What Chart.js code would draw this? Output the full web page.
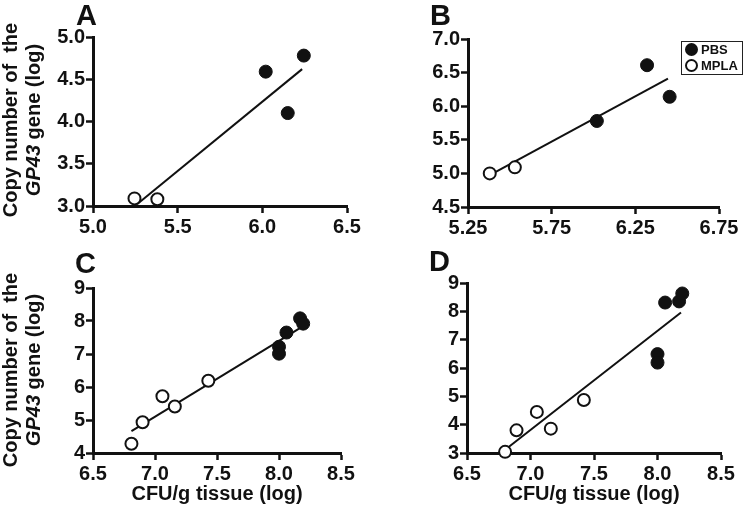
<!DOCTYPE html>
<html>
<head>
<meta charset="utf-8">
<script src="https://cdn.jsdelivr.net/npm/chart.js@4.4.0/dist/chart.umd.min.js"></script>
<style>
  body { margin: 0; background: #fff; }
  #wrap { position: relative; width: 748px; height: 515px; overflow: hidden; font-family: "Liberation Sans", Arial, sans-serif; color: #111; }
  canvas { position: absolute; }
  .letter { position: absolute; font-size: 29px; font-weight: bold; line-height: 29px; }
  .ytitle { position: absolute; width: 240px; font-size: 20px; font-weight: bold; line-height: 23px; text-align: center; white-space: nowrap; transform: translate(-50%, -50%) rotate(-90deg); }
  #legend { position: absolute; left: 681px; top: 41px; width: 57px; height: 32px; border: 1.5px solid #222; font-size: 13px; font-weight: bold; line-height: 16px; padding-left: 3px; }
  .dot { display: inline-block; width: 9px; height: 9px; border-radius: 50%; border: 2px solid #111; margin-right: 3px; vertical-align: -2px; }
</style>
</head>
<body>
<div id="wrap">
  <canvas id="cA" style="left:0;top:0" width="374" height="257"></canvas>
  <canvas id="cB" style="left:374px;top:0" width="374" height="257"></canvas>
  <canvas id="cC" style="left:0;top:257px" width="374" height="258"></canvas>
  <canvas id="cD" style="left:374px;top:257px" width="374" height="258"></canvas>

  <div class="letter" style="left:76px;top:1px">A</div>
  <div class="letter" style="left:430px;top:1px">B</div>
  <div class="letter" style="left:75px;top:249px">C</div>
  <div class="letter" style="left:429px;top:247px">D</div>

  <div class="ytitle" style="left:22px;top:120px">Copy number of &nbsp;the<br><i>GP43</i> gene (log)</div>
  <div class="ytitle" style="left:22px;top:370px">Copy number of &nbsp;the<br><i>GP43</i> gene (log)</div>

  <div id="legend">
    <div><span class="dot" style="background:#111"></span>PBS</div>
    <div><span class="dot" style="background:#fff"></span>MPLA</div>
  </div>
</div>

<script>
// panel A
const pbsAx = [6.02, 6.15, 6.245];
const pbsAy = [4.59, 4.10, 4.78];
const mplaAx = [5.245, 5.38];
const mplaAy = [3.09, 3.08];
const fitAx = [5.26, 6.235];
const fitAy = [3.02, 4.62];
const xTicksA = [5.0, 5.5, 6.0, 6.5];
const yTicksA = [3.0, 3.5, 4.0, 4.5, 5.0];

// panel B
const pbsBx = [6.02, 6.32, 6.455];
const pbsBy = [5.78, 6.61, 6.14];
const mplaBx = [5.38, 5.53];
const mplaBy = [5.0, 5.09];
const fitBx = [5.38, 6.445];
const fitBy = [4.975, 6.41];
const xTicksB = [5.25, 5.75, 6.25, 6.75];
const yTicksB = [4.5, 5.0, 5.5, 6.0, 6.5, 7.0];

// panel C
const pbsCx = [8.0, 8.0, 8.06, 8.17, 8.195];
const pbsCy = [7.22, 7.01, 7.65, 8.08, 7.92];
const mplaCx = [6.81, 6.90, 7.06, 7.16, 7.43];
const mplaCy = [4.28, 4.93, 5.72, 5.41, 6.19];
const fitCx = [6.81, 8.185];
const fitCy = [4.66, 7.82];
const xTicksC = [6.5, 7.0, 7.5, 8.0, 8.5];
const yTicksC = [4, 5, 6, 7, 8, 9];

// panel D
const pbsDx = [8.0, 8.0, 8.06, 8.17, 8.195];
const pbsDy = [6.49, 6.19, 8.31, 8.35, 8.63];
const mplaDx = [6.80, 6.89, 7.05, 7.16, 7.42];
const mplaDy = [3.04, 3.80, 4.45, 3.86, 4.87];
const fitDx = [6.81, 8.185];
const fitDy = [3.15, 7.96];
const xTicksD = [6.5, 7.0, 7.5, 8.0, 8.5];
const yTicksD = [3, 4, 5, 6, 7, 8, 9];

const xTitle = "CFU/g tissue (log)";

Chart.defaults.font.family = '"Liberation Sans", Arial, sans-serif';
Chart.defaults.color = "#111";

const pts = (xs, ys) => xs.map((x, i) => ({ x, y: ys[i] }));

function axis(ticks, digits, fitSize, isX, title, titlePad) {
    return {
        type: "linear",
        min: ticks[0],
        max: ticks[ticks.length - 1],
        afterBuildTicks: s => { s.ticks = ticks.map(v => ({ value: v })); },
        afterFit: s => { if (isX) s.height = fitSize; else s.width = fitSize; },
        ticks: {
            font: { size: 20, weight: "bold" },
            padding: isX ? 2 : 1,
            autoSkip: false,
            maxRotation: 0,
            callback: v => Number(v).toFixed(digits),
        },
        grid: {
            drawOnChartArea: false,
            drawTicks: true,
            tickLength: 7,
            tickWidth: 2.5,
            tickColor: "#111",
        },
        border: { display: true, color: "#111", width: 3 },
        title: {
            display: !!title,
            text: title || "",
            font: { size: 20, weight: "bold" },
            padding: { top: 0, bottom: titlePad || 0 },
        },
    };
}

function panel(id, p) {
    new Chart(document.getElementById(id), {
        type: "scatter",
        data: {
            datasets: [
                {
                    label: "fit",
                    data: pts(p.fitX, p.fitY),
                    showLine: true,
                    borderColor: "#111",
                    borderWidth: 2,
                    pointRadius: 0,
                    order: 3,
                    clip: false,
                },
                {
                    label: "PBS",
                    data: pts(p.pbsX, p.pbsY),
                    pointRadius: 6.5,
                    backgroundColor: "#111",
                    borderColor: "#111",
                    borderWidth: 1,
                    order: 1,
                    clip: false,
                },
                {
                    label: "MPLA",
                    data: pts(p.mplaX, p.mplaY),
                    pointRadius: 6,
                    backgroundColor: "#fff",
                    borderColor: "#111",
                    borderWidth: 2,
                    order: 2,
                    clip: false,
                },
            ],
        },
        options: {
            responsive: false,
            animation: false,
            layout: { padding: { left: 0, top: p.top, right: p.right, bottom: 0 } },
            plugins: { legend: { display: false }, tooltip: { enabled: false } },
            scales: {
                x: axis(p.xTicks, p.xDigits, p.xH, true, p.xTitle, 9),
                y: axis(p.yTicks, p.yDigits, p.yW, false),
            },
        },
    });
}

panel("cA", { pbsX: pbsAx, pbsY: pbsAy, mplaX: mplaAx, mplaY: mplaAy, fitX: fitAx, fitY: fitAy,
    xTicks: xTicksA, yTicks: yTicksA, xDigits: 1, yDigits: 1, top: 37, right: 27, yW: 93, xH: 51 });
panel("cB", { pbsX: pbsBx, pbsY: pbsBy, mplaX: mplaBx, mplaY: mplaBy, fitX: fitBx, fitY: fitBy,
    xTicks: xTicksB, yTicks: yTicksB, xDigits: 2, yDigits: 1, top: 39, right: 29, yW: 94, xH: 50 });
panel("cC", { pbsX: pbsCx, pbsY: pbsCy, mplaX: mplaCx, mplaY: mplaCy, fitX: fitCx, fitY: fitCy,
    xTicks: xTicksC, yTicks: yTicksC, xDigits: 1, yDigits: 0, top: 31, right: 33, yW: 93, xH: 62, xTitle });
panel("cD", { pbsX: pbsDx, pbsY: pbsDy, mplaX: mplaDx, mplaY: mplaDy, fitX: fitDx, fitY: fitDy,
    xTicks: xTicksD, yTicks: yTicksD, xDigits: 1, yDigits: 0, top: 26, right: 27, yW: 93, xH: 62, xTitle });
</script>
</body>
</html>
